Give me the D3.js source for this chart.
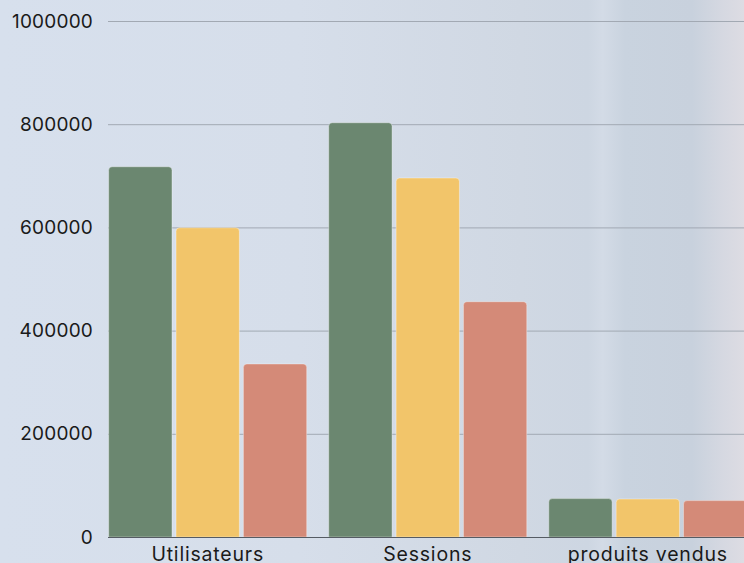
<!DOCTYPE html>
<html>
<head>
<meta charset="utf-8">
<script src="https://cdn.jsdelivr.net/npm/d3@7"></script>
<style>
html,body{margin:0;padding:0;overflow:hidden;}
body{width:744px;height:563px;}
svg{display:block;}
</style>
</head>
<body>
<svg id="chart" width="744" height="563"></svg>
<script>
const categories = ["Utilisateurs", "Sessions", "produits vendus"];
const seriesNames = ["s1", "s2", "s3"];
const series1 = [717500, 802800, 74400];
const series2 = [599300, 695700, 73600];
const series3 = [335300, 456000, 70500];
const yTicks = [0, 200000, 400000, 600000, 800000, 1000000];
const colors = ["#6b8770", "#f2c56a", "#d48a78"];

(function(){
const W = 744, H = 563;
const svg = d3.select("#chart");
const defs = svg.append("defs");
const g1 = defs.append("linearGradient").attr("id","bg").attr("x1","0").attr("y1","0").attr("x2","1").attr("y2","0");
[["0%","#d7e0ed"],["40%","#d6deea"],["70%","#d0d8e3"],["79%","#cdd6e2"],["81%","#d3dbe6"],["84%","#c9d3df"],["93%","#c8d1dd"],["97%","#d5d8e1"],["100%","#dddce3"]]
  .forEach(([o,c])=>g1.append("stop").attr("offset",o).attr("stop-color",c));
svg.append("rect").attr("width",W).attr("height",H).attr("fill","url(#bg)");

const mLeft = 108, mTop = 21, mBottom = 537;
const y = d3.scaleLinear().domain([0, 1000000]).range([mBottom, mTop]);
const x0 = d3.scaleBand().domain(categories).range([mLeft, mLeft + 639.5]).paddingInner(0.1).paddingOuter(0.003);
const x1 = d3.scaleBand().domain(seriesNames).range([0, x0.bandwidth()]).paddingInner(0.06);

const font = "Inter, 'Open Sans', sans-serif";

// grid
const grid = svg.append("g");
grid.selectAll("line").data(yTicks.filter(d=>d>0)).join("line")
  .attr("x1", mLeft).attr("x2", W)
  .attr("y1", d=>y(d)+0.5).attr("y2", d=>y(d)+0.5)
  .attr("stroke", "#a2a9b3").attr("stroke-width", 1);

// y axis labels
const yAxis = d3.axisLeft(y).tickValues(yTicks).tickSize(0).tickPadding(15).tickFormat(d3.format("d"));
const ya = svg.append("g").attr("transform", `translate(${mLeft},0)`).call(yAxis);
ya.select(".domain").remove();
ya.selectAll("text").attr("font-family", font).attr("font-size", 19).attr("letter-spacing", "0.2px").attr("fill", "#1a1a1a");

// bars
const data = categories.map((c,i)=>({cat:c, vals:[series1[i], series2[i], series3[i]]}));
function topRounded(x, yTop, w, h, r){
  r = Math.min(r, h, w/2);
  return `M${x},${yTop+h}V${yTop+r}Q${x},${yTop} ${x+r},${yTop}H${x+w-r}Q${x+w},${yTop} ${x+w},${yTop+r}V${yTop+h}Z`;
}
const groups = svg.append("g").selectAll("g").data(data).join("g")
  .attr("transform", d=>`translate(${x0(d.cat)},0)`);
groups.selectAll("path").data(d=>d.vals.map((v,i)=>({v, s:seriesNames[i], i}))).join("path")
  .attr("d", d=>topRounded(x1(d.s), y(d.v), x1.bandwidth(), mBottom - y(d.v), 3.5))
  .attr("fill", d=>colors[d.i])
  .attr("stroke", "rgba(255,255,255,0.35)").attr("stroke-width", 1);

// x axis
const xAxis = d3.axisBottom(x0).tickSize(0).tickPadding(10);
const xa = svg.append("g").attr("transform", `translate(0,${mBottom})`).call(xAxis);
xa.select(".domain").remove();
xa.selectAll("text").attr("font-family", font).attr("font-size", 19.5).attr("letter-spacing", "0.8px").attr("fill", "#1a1a1a");
svg.append("line").attr("x1", mLeft).attr("x2", W).attr("y1", mBottom+0.5).attr("y2", mBottom+0.5)
  .attr("stroke", "#555b63").attr("stroke-width", 1);
})();
</script>
</body>
</html>
